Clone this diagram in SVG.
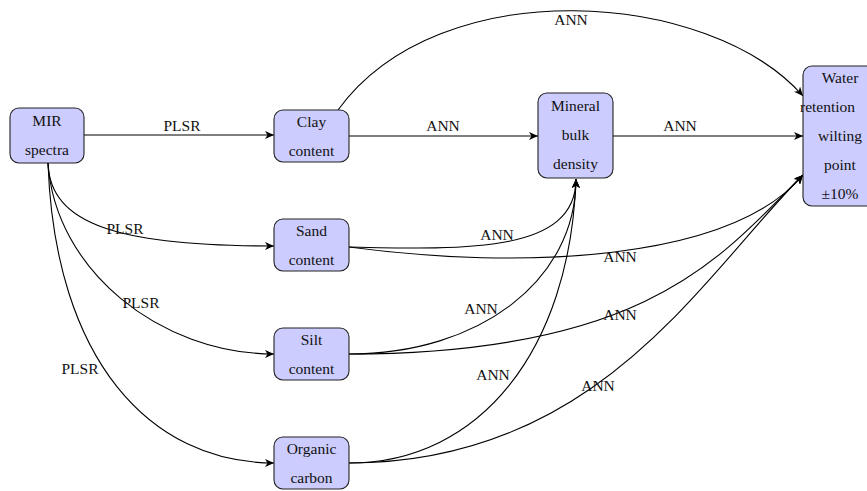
<svg xmlns="http://www.w3.org/2000/svg" width="867" height="491" viewBox="0 0 867 491">
<defs>
<marker id="arr" markerUnits="userSpaceOnUse" markerWidth="10" markerHeight="8" refX="9" refY="4" orient="auto">
<path d="M0,0 L9,4 L0,8 L2.5,4 z" fill="#000"/>
</marker>
<style>
.node rect{fill:#ccccff;stroke:#222;stroke-width:1.1}
.node text,.lbl{font-family:"Liberation Serif","Times New Roman",serif;font-size:15.5px;fill:#111;text-anchor:middle}
.edge{fill:none;stroke:#000;stroke-width:1.1;marker-end:url(#arr)}
</style>
</defs>
<rect width="867" height="491" fill="#fff"/>
<g id="connectors">
<path class="edge" d="M84,135 L274,135"/>
<path class="edge" d="M349,136 L538,136"/>
<path class="edge" d="M613,136 L803,136"/>
<path class="edge" d="M338,110 C440,-30 710,-10 803,96"/>
<path class="edge" d="M48,163 C50,225 120,246 274,246"/>
<path class="edge" d="M48,163 C55,270 160,354 274,354"/>
<path class="edge" d="M48,163 C55,360 150,463 274,463"/>
<path class="edge" d="M349,247 C470,250 576,252 576,179"/>
<path class="edge" d="M349,354 C480,354 576,280 576,179"/>
<path class="edge" d="M349,463 C480,463 570,350 576,179"/>
<path class="edge" d="M349,247 C520,270 730,262 803,175"/>
<path class="edge" d="M349,354 C649,354 723,255 803,175"/>
<path class="edge" d="M349,463 C599,463 703,275 803,175"/>
</g>
<g id="labels">
<text class="lbl" x="182" y="131">PLSR</text>
<text class="lbl" x="443" y="131">ANN</text>
<text class="lbl" x="680" y="131">ANN</text>
<text class="lbl" x="571" y="25">ANN</text>
<text class="lbl" x="125" y="234">PLSR</text>
<text class="lbl" x="141" y="308">PLSR</text>
<text class="lbl" x="80" y="374">PLSR</text>
<text class="lbl" x="497" y="240">ANN</text>
<text class="lbl" x="620" y="262">ANN</text>
<text class="lbl" x="481" y="314">ANN</text>
<text class="lbl" x="620" y="320">ANN</text>
<text class="lbl" x="493" y="380">ANN</text>
<text class="lbl" x="598" y="391">ANN</text>
</g>
<g id="mir" class="node">
<rect x="10" y="108" width="74" height="55" rx="9"/>
<text x="47" y="126">MIR</text>
<text x="47" y="155">spectra</text>
</g>
<g id="clay" class="node">
<rect x="274" y="110" width="75" height="52" rx="9"/>
<text x="311.5" y="126.5">Clay</text>
<text x="311.5" y="155.5">content</text>
</g>
<g id="sand" class="node">
<rect x="274" y="219" width="75" height="52" rx="9"/>
<text x="311.5" y="235.5">Sand</text>
<text x="311.5" y="264.5">content</text>
</g>
<g id="silt" class="node">
<rect x="274" y="328" width="75" height="52" rx="9"/>
<text x="311.5" y="344.5">Silt</text>
<text x="311.5" y="373.5">content</text>
</g>
<g id="organic" class="node">
<rect x="274" y="437" width="75" height="52" rx="9"/>
<text x="311.5" y="453.5">Organic</text>
<text x="311.5" y="482.5">carbon</text>
</g>
<g id="mineral" class="node">
<rect x="538" y="93" width="75" height="85" rx="9"/>
<text x="575.5" y="111">Mineral</text>
<text x="575.5" y="140">bulk</text>
<text x="575.5" y="169">density</text>
</g>
<g id="water" class="node">
<rect x="803" y="66" width="75" height="140" rx="9"/>
<text x="840" y="83">Water</text>
<text x="800" y="112" style="text-anchor:start">retention</text>
<text x="840" y="141">wilting</text>
<text x="840" y="170">point</text>
<text x="840" y="199">±10%</text>
</g>
</svg>
